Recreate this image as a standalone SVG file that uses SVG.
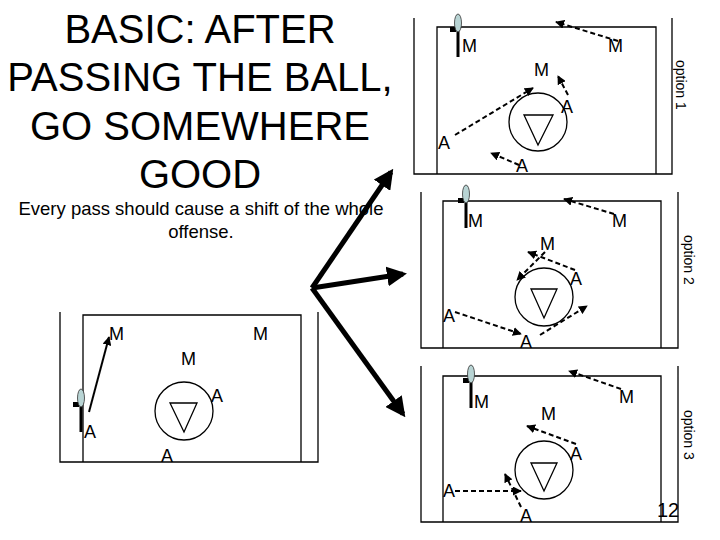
<svg xmlns="http://www.w3.org/2000/svg" width="720" height="540" viewBox="0 0 720 540">
<style>
text{font-family:"Liberation Sans",Arial,sans-serif;fill:#000}
.lb{font-size:18px}
.s{font-size:18.5px}
.t{font-size:40px}
.ln{stroke:#000;stroke-width:1.3;fill:none}
.d{stroke:#000;stroke-width:2;stroke-dasharray:5,3;fill:none}
.big{stroke:#000;stroke-width:5;fill:none}
.opt{font-size:14px}
</style>
<defs>
<marker id="ah" viewBox="0 0 10 10" refX="9" refY="5" markerWidth="4.5" markerHeight="4.5" orient="auto"><path d="M0,0L10,5L0,10z" fill="#000"/></marker>
<marker id="bh" viewBox="0 0 10 10" refX="8" refY="5" markerWidth="4" markerHeight="4" orient="auto"><path d="M0,0L10,5L0,10z" fill="#000"/></marker>
<g id="stick"><line x1="0" y1="0" x2="0" y2="42" stroke="#000" stroke-width="3"/><rect x="-8" y="12" width="6" height="5" fill="#000"/><ellipse cx="0" cy="8" rx="3.5" ry="9" fill="#b8d4d4" stroke="#333" stroke-width="0.8"/></g>
</defs>
<g id="title">
<text class="t" x="200" y="43" text-anchor="middle">BASIC: AFTER</text>
<text class="t" x="200" y="91" text-anchor="middle">PASSING THE BALL,</text>
<text class="t" x="200" y="140" text-anchor="middle">GO SOMEWHERE</text>
<text class="t" x="200" y="188" text-anchor="middle">GOOD</text>
<text class="s" x="201" y="215" text-anchor="middle">Every pass should cause a shift of the whole</text>
<text class="s" x="201" y="238" text-anchor="middle">offense.</text>
</g>
<g id="panel1">
<path class="ln" d="M414,18V174H672V18M437,174V27H656V174"/>
<circle class="ln" cx="538" cy="122" r="29"/>
<path class="ln" d="M524,115H553L538,145Z"/>
<use href="#stick" x="458" y="15"/>
<text class="lb" x="462" y="52">M</text><text class="lb" x="608" y="52">M</text><text class="lb" x="534" y="76">M</text>
<text class="lb" x="561" y="113">A</text><text class="lb" x="438" y="149">A</text><text class="lb" x="516" y="172">A</text>
<text class="opt" transform="translate(676,60) rotate(90)">option 1</text>
</g>
<g id="panel2">
<path class="ln" d="M421,192V348H678V192M443,348V201H661V348"/>
<circle class="ln" cx="544" cy="297" r="29"/>
<path class="ln" d="M531,289H557L544,318Z"/>
<use href="#stick" x="466" y="186"/>
<text class="lb" x="468" y="227">M</text><text class="lb" x="612" y="227">M</text><text class="lb" x="540" y="250">M</text>
<text class="lb" x="570" y="285">A</text><text class="lb" x="443" y="322">A</text><text class="lb" x="520" y="348">A</text>
<text class="opt" transform="translate(684,235) rotate(90)">option 2</text>
</g>
<g id="panel3">
<path class="ln" d="M421,366V522H678V366M443,522V376H661V522"/>
<circle class="ln" cx="544" cy="470" r="29"/>
<path class="ln" d="M531,463H557L544,491Z"/>
<use href="#stick" x="471" y="366"/>
<text class="lb" x="474" y="408">M</text><text class="lb" x="619" y="403">M</text><text class="lb" x="541" y="420">M</text>
<text class="lb" x="570" y="460">A</text><text class="lb" x="443" y="497">A</text><text class="lb" x="520" y="522">A</text>
<text x="657" y="517" style="font-size:20px">12</text>
<text class="opt" transform="translate(684,410) rotate(90)">option 3</text>
</g>
<g id="panel4">
<path class="ln" d="M60,312V462H318V312M83,462V315H301V462"/>
<circle class="ln" cx="184" cy="411" r="29"/>
<path class="ln" d="M170,403H197L184,432Z"/>
<use href="#stick" x="81" y="390"/>
<text class="lb" x="109" y="340">M</text><text class="lb" x="253" y="340">M</text><text class="lb" x="181" y="365">M</text>
<text class="lb" x="211" y="402">A</text><text class="lb" x="84" y="438">A</text><text class="lb" x="161" y="462">A</text>
</g>
<g id="connectors">
<path class="d" marker-end="url(#ah)" d="M618,41L556,22"/>
<path class="d" marker-end="url(#ah)" d="M568,95L558,76"/>
<path class="d" marker-end="url(#ah)" d="M455,135L533,88"/>
<path class="d" marker-end="url(#ah)" d="M519,165L491,153"/>
<path class="d" marker-end="url(#ah)" d="M614,214L564,199"/>
<path class="d" marker-end="url(#ah)" d="M545,252L517,280"/>
<path class="d" marker-end="url(#ah)" d="M575,270L528,252"/>
<path class="d" marker-end="url(#ah)" d="M455,312L521,334"/>
<path class="d" marker-end="url(#ah)" d="M540,335L587,306"/>
<path class="d" marker-end="url(#ah)" d="M621,389L569,371"/>
<path class="d" marker-end="url(#ah)" d="M576,444L527,426"/>
<path class="d" marker-end="url(#ah)" d="M455,491L521,491"/>
<path class="d" marker-end="url(#ah)" d="M521,507L505,474"/>
<path stroke="#000" stroke-width="2" fill="none" marker-end="url(#ah)" d="M89,412L109,337"/>
<path class="big" marker-end="url(#bh)" d="M312,288L391,172"/>
<path class="big" marker-end="url(#bh)" d="M312,288L403,274"/>
<path class="big" marker-end="url(#bh)" d="M312,288L403,414"/>
</g>
</svg>
